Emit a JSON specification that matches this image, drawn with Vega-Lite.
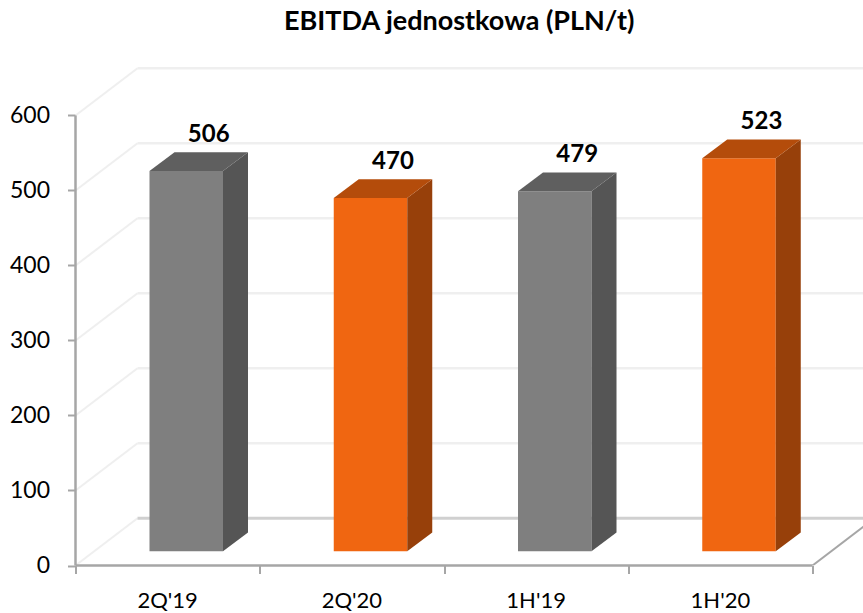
{
"$schema":"https://vega.github.io/schema/vega-lite/v6.json",
"autosize":{"type":"none"},
"padding":{"left":75.5,"top":50,"right":0,"bottom":47.5},
"width":787.5,
"height":515.5,
"background":"white",
"config":{"view":{"stroke":null},"font":"Lato"},
"title":{"text":"EBITDA jednostkowa (PLN/t)","font":"Lato","fontSize":27,"fontWeight":"bold","color":"black","anchor":"middle","frame":"group","dx":-10,"offset":14},
"datasets":{
"ticks":[{"tick":0},{"tick":100},{"tick":200},{"tick":300},{"tick":400},{"tick":500},{"tick":600}],
"bars":[{"period":"2Q'19","year":"2019","value":506},{"period":"2Q'20","year":"2020","value":470},{"period":"1H'19","year":"2019","value":479},{"period":"1H'20","year":"2020","value":523}]
},
"layer":[
{"data":{"name":"ticks"},
 "transform":[{"calculate":"datum.tick+63","as":"back"},{"calculate":"0.3365","as":"bx"},{"calculate":"4.3","as":"ex"},{"calculate":"0","as":"z"}],
 "layer":[
 {"mark":{"type":"rule","stroke":"#efefef","strokeWidth":2},
  "encoding":{"x":{"field":"z","type":"quantitative","scale":{"domain":[0,4.274],"nice":false,"zero":false},"title":null,"axis":{"values":[0,1,2,3,4],"title":null,"labels":false,"domain":false,"grid":false,"ticks":true,"tickSize":8,"tickWidth":2,"tickColor":"#a6a6a6"}},
   "x2":{"field":"bx"},
   "y":{"field":"tick","type":"quantitative","scale":{"domain":[0,687.33],"nice":false,"zero":false},"title":null,"axis":{"values":[0,100,200,300,400,500,600],"title":null,"domain":false,"grid":false,"tickSize":8,"tickWidth":2,"tickColor":"#a6a6a6","labelFontSize":23,"labelFont":"Lato","labelColor":"black","labelPadding":18}},
   "y2":{"field":"back"}}},
 {"transform":[{"filter":"datum.tick>0"}],"mark":{"type":"rule","stroke":"#efefef","strokeWidth":2.5,"clip":true},
  "encoding":{"x":{"field":"bx","type":"quantitative","title":null},"x2":{"field":"ex"},"y":{"field":"back","type":"quantitative","title":null}}},
 {"transform":[{"filter":"datum.tick==0"}],"mark":{"type":"rule","stroke":"#d0d0d0","strokeWidth":3,"clip":true},
  "encoding":{"x":{"field":"bx","type":"quantitative","title":null},"x2":{"field":"ex"},"y":{"field":"back","type":"quantitative","title":null}}},
 {"transform":[{"filter":"datum.tick==0"}],"mark":{"type":"rule","stroke":"#a6a6a6","strokeWidth":2,"clip":true},
  "encoding":{"x":{"datum":4,"type":"quantitative","title":null},"x2":{"datum":4.3365},"y":{"datum":0,"type":"quantitative","title":null},"y2":{"datum":63}}},
 {"transform":[{"filter":"datum.tick==0"}],"mark":{"type":"rule","stroke":"#a6a6a6","strokeWidth":2.5},
  "encoding":{"x":{"datum":0,"type":"quantitative","title":null},"x2":{"datum":4},"y":{"datum":0,"type":"quantitative","title":null}}},
 {"transform":[{"filter":"datum.tick==0"}],"mark":{"type":"rule","stroke":"#a6a6a6","strokeWidth":2.5},
  "encoding":{"x":{"datum":0,"type":"quantitative","title":null},"y":{"datum":0,"type":"quantitative","title":null},"y2":{"datum":600}}}
 ]},
{"data":{"name":"bars"},
 "transform":[
  {"window":[{"op":"row_number","as":"n"}]},
  {"calculate":"datum.n-1+0.4016","as":"x0"},
  {"calculate":"datum.n-1+0.8005","as":"x1"},
  {"calculate":"datum.n-1+0.5","as":"xc"},
  {"calculate":"datum.x1+0.1357","as":"x1b"},
  {"calculate":"datum.x0+0.1357","as":"x0b"},
  {"calculate":"19","as":"base"},
  {"calculate":"44","as":"baseb"},
  {"calculate":"datum.value+20","as":"top"},
  {"calculate":"datum.value+45","as":"topb"},
  {"calculate":"0","as":"zero"}
 ],
 "layer":[
 {"transform":[{"calculate":"datum.year+'-front'","as":"face"}],
  "mark":{"type":"rect","stroke":null},
  "encoding":{"x":{"field":"x0","type":"quantitative","title":null},"x2":{"field":"x1"},"y":{"field":"base","type":"quantitative","title":null},"y2":{"field":"top"},
   "color":{"field":"face","type":"nominal","legend":null,"scale":{"domain":["2019-front","2019-side","2019-top","2020-front","2020-side","2020-top"],"range":["#7f7f7f","#555555","#5f5f5f","#f06611","#97400a","#b44c0b"]}}}},
 {"transform":[{"calculate":"datum.year+'-side'","as":"face"},{"calculate":"[0,1]","as":"t"},{"flatten":["t"]},
   {"calculate":"datum.t==0?datum.x1:datum.x1b","as":"ax"},
   {"calculate":"datum.t==0?datum.base:datum.baseb","as":"lo"},
   {"calculate":"datum.t==0?datum.top:datum.topb","as":"hi"}],
  "mark":{"type":"area"},
  "encoding":{"x":{"field":"ax","type":"quantitative","title":null},"y":{"field":"lo","type":"quantitative","title":null},"y2":{"field":"hi"},"detail":{"field":"period"},
   "color":{"field":"face","type":"nominal","legend":null}}},
 {"transform":[{"calculate":"datum.year+'-top'","as":"face"},{"calculate":"[0,1,2,3]","as":"t"},{"flatten":["t"]},
   {"calculate":"[datum.x0,datum.x0b,datum.x1,datum.x1b][datum.t]","as":"ax"},
   {"calculate":"datum.t==3?datum.topb:datum.top","as":"lo"},
   {"calculate":"datum.t==0?datum.top:datum.topb","as":"hi"}],
  "mark":{"type":"area"},
  "encoding":{"x":{"field":"ax","type":"quantitative","title":null},"y":{"field":"lo","type":"quantitative","title":null},"y2":{"field":"hi"},"detail":{"field":"period"},
   "color":{"field":"face","type":"nominal","legend":null}}},
 {"transform":[{"calculate":"datum.xc+0.223","as":"lx"}],
  "mark":{"type":"text","font":"Lato","fontWeight":"bold","fontSize":24,"color":"black","baseline":"middle","align":"center","dy":-17},
  "encoding":{"x":{"field":"lx","type":"quantitative","title":null},"y":{"field":"topb","type":"quantitative","title":null},"text":{"field":"value","type":"quantitative"}}},
 {"mark":{"type":"text","font":"Lato","fontSize":22,"color":"black","baseline":"middle","align":"center","dy":35},
  "encoding":{"x":{"field":"xc","type":"quantitative","title":null},"y":{"field":"zero","type":"quantitative","title":null},"text":{"field":"period","type":"nominal"}}}
 ]}
]
}
